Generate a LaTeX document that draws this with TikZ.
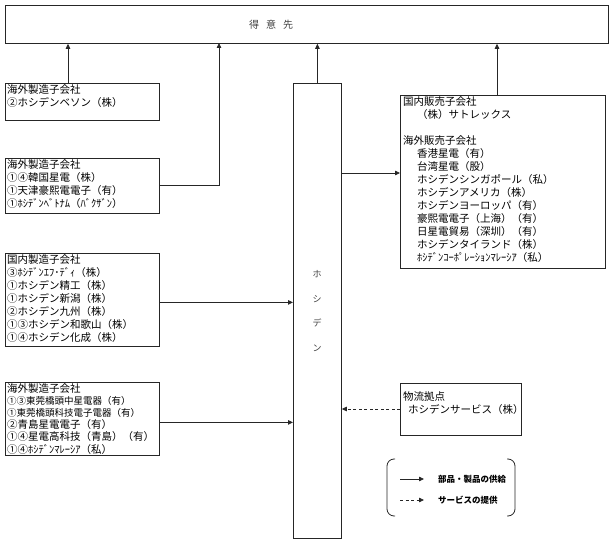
\documentclass[tikz,border=0pt]{standalone}
\usepackage{fontspec}
\setmainfont{Noto Sans CJK JP}
\usetikzlibrary{arrows.meta,calc}
\begin{document}
\begin{tikzpicture}[x=1pt,y=-1pt,
  box/.style={draw=black!85,line width=0.8pt,inner sep=0pt,anchor=north west},
  txt/.style={anchor=north west,align=left,inner sep=0pt,font=\fontsize{10.5}{13}\selectfont},
  arr/.style={-{Triangle[length=5pt,width=4.5pt]},line width=0.8pt,draw=black!85},
  darr/.style={arr,dash pattern=on 3pt off 2.5pt}]
\useasboundingbox (0,0) rectangle (611,545);

% top box
\node[box,minimum width=603pt,minimum height=38pt] (top) at (5,5) {};
\node[inner sep=0pt,text=black!75,font=\fontsize{10}{10}\selectfont] (toptxt) at (271,25) {得\hspace{7pt}意\hspace{7pt}先};

% left boxes
\node[box,minimum width=154pt,minimum height=37pt] (b1) at (5,83) {};
\node[txt] (t1) at (7,84) {海外製造子会社\\②ホシデンベソン（株）};

\node[box,minimum width=154pt,minimum height=55pt] (b2) at (5,158) {};
\node[txt] (t2) at (7,159) {海外製造子会社\\①④韓国星電（株）\\①天津豪熙電電子（有）\\①ﾎｼﾃﾞﾝﾍﾞﾄﾅﾑ（ﾊﾞｸｻﾞﾝ）};

\node[box,minimum width=154pt,minimum height=93pt] (b3) at (5,253) {};
\node[txt] (t3) at (7,254) {国内製造子会社\\③ﾎｼﾃﾞﾝｴﾌ･ﾃﾞｨ（株）\\①ホシデン精工（株）\\①ホシデン新潟（株）\\②ホシデン九州（株）\\①③ホシデン和歌山（株）\\①④ホシデン化成（株）};

\node[box,minimum width=154pt,minimum height=73pt] (b4) at (5,382) {};
\node[txt,font=\fontsize{10.5}{12.2}\selectfont] (t4) at (7,383) {海外製造子会社\\{\fontsize{9.5}{12.2}\selectfont ①③東莞橋頭中星電器（有）}\\{\fontsize{9.5}{12.2}\selectfont ①東莞橋頭科技電子電器（有）}\\②青島星電電子（有）\\①④星電高科技（青島）（有）\\①④ﾎｼﾃﾞﾝﾏﾚｰｼｱ（私）};

% Hoshiden
\node[box,minimum width=48pt,minimum height=455pt] (hos) at (293,83) {};
\node[inner sep=0pt,align=center,text=black!75,font=\fontsize{9}{24.8}\selectfont] (hostxt) at (317,311) {ホ\\シ\\デ\\ン};

% sales box
\node[box,minimum width=205pt,minimum height=173pt] (sales) at (400,95) {};
\node[txt] (t5) at (403,96) {国内販売子会社\\\hspace{14pt}（株）サトレックス\\[13pt]海外販売子会社\\
\hspace{14pt}香港星電（有）\\\hspace{14pt}台湾星電（股）\\\hspace{14pt}ホシデンシンガポール（私）\\\hspace{14pt}ホシデンアメリカ（株）\\\hspace{14pt}ホシデンヨーロッパ（有）\\\hspace{14pt}豪熙電電子（上海）（有）\\\hspace{14pt}日星電貿易（深圳）（有）\\\hspace{14pt}ホシデンタイランド（株）\\\hspace{14pt}ﾎｼﾃﾞﾝｺｰﾎﾟﾚｰｼｮﾝﾏﾚｰｼｱ（私）};

% logistics box
\node[box,minimum width=121pt,minimum height=52pt] (log) at (400,383) {};
\node[txt] (t6) at (403,391) {物流拠点\\\hspace{5pt}ホシデンサービス（株）};

% connectors
\coordinate (a1) at (68,83);
\draw[arr] (a1) -- (a1 |- top.south);
\coordinate (a2) at (219,43);
\draw[arr] (b2.east) -| (a2);
\draw[arr] (hos.north) -- (hos.north |- top.south);
\coordinate (a4) at (497,95);
\draw[arr] (a4) -- (a4 |- top.south);
\coordinate (a5) at (341,173);
\draw[arr] (a5) -- (a5 -| sales.west);
\draw[arr] ([yshift=-2.5pt]b3.east) -- ([yshift=-2.5pt]b3.east -| hos.west);
\draw[arr] ([yshift=-3.5pt]b4.east) -- ([yshift=-3.5pt]b4.east -| hos.west);
\coordinate (a8) at (400,409);
\draw[darr] (a8) -- (a8 -| hos.east);

% legend
\draw[line width=0.8pt,draw=black!85,rounded corners=7pt] (395,459) -- (387,459) -- (387,516) -- (395,516);
\draw[line width=0.8pt,draw=black!85,rounded corners=7pt] (507,459) -- (515,459) -- (515,516) -- (507,516);
\coordinate (l1) at (400,479);
\coordinate (l1e) at (424,479);
\draw[arr] (l1) -- (l1e);
\node[anchor=west,inner sep=0pt,font=\bfseries\fontsize{8.5}{10}\selectfont] (lt1) at (438,479) {部品・製品の供給};
\coordinate (l2) at (400,500);
\coordinate (l2e) at (424,500);
\draw[darr] (l2) -- (l2e);
\node[anchor=west,inner sep=0pt,font=\bfseries\fontsize{8.5}{10}\selectfont] (lt2) at (438,500) {サービスの提供};
\end{tikzpicture}
\end{document}
